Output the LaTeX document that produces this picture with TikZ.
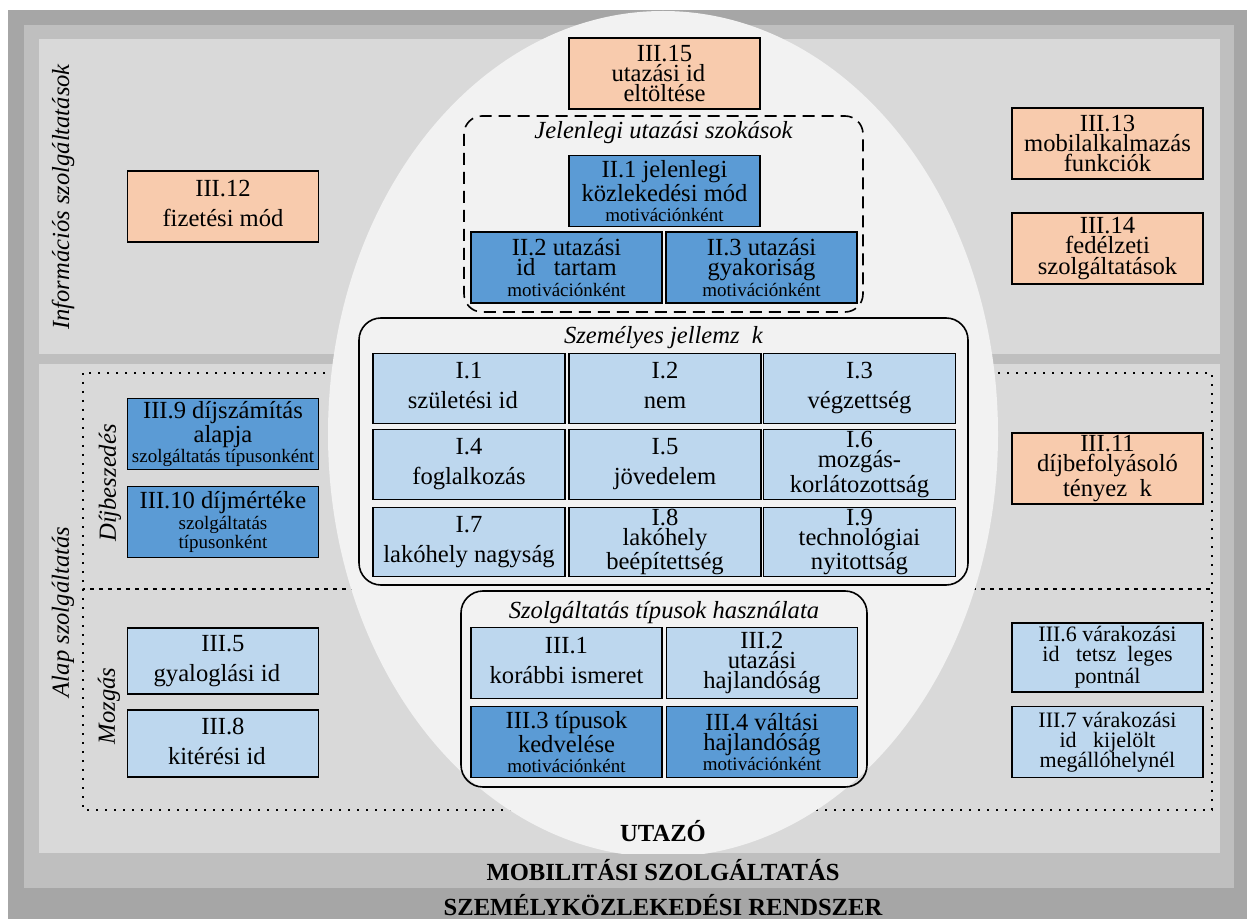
\documentclass[tikz,border=0pt]{standalone}
\usepackage{fontspec}
\setmainfont{Liberation Serif}
\definecolor{peach}{HTML}{F8CBAD}
\definecolor{dblue}{HTML}{5B9BD5}
\definecolor{lblue}{HTML}{BDD7EE}
\definecolor{gA}{HTML}{A6A6A6}
\definecolor{gB}{HTML}{BFBFBF}
\definecolor{gC}{HTML}{D9D9D9}
\definecolor{gD}{HTML}{F2F2F2}
\newcommand{\smtxt}[1]{{\fontsize{9.5}{10}\selectfont #1}}
\newcommand{\dsc}{\vphantom{g}}
\tikzset{
  bx/.style={draw=black, line width=0.7pt, inner sep=0pt, align=center,
    minimum width=95.5pt, minimum height=35.5pt,
    font=\fontsize{12.3}{15}\selectfont},
  three/.style={font=\fontsize{12.3}{10.2}\selectfont},
  threesm/.style={font=\fontsize{11}{10}\selectfont},
  cell/.style={minimum width=96pt, minimum height=34.75pt},
  pch/.style={bx, fill=peach},
  dbx/.style={bx, fill=dblue},
  lbx/.style={bx, fill=lblue},
  dotline/.style={line width=0.8pt, dash pattern=on 0.8pt off 3.7pt},
  dashline/.style={line width=0.8pt, dash pattern=on 6pt off 3.5pt, rounded corners=9pt},
  grp/.style={line width=0.8pt, rounded corners=11pt},
  ttl/.style={font=\fontsize{12.3}{14}\selectfont\itshape, inner sep=0pt},
  sidelbl/.style={font=\fontsize{12.3}{14}\selectfont\itshape, rotate=90, inner sep=0pt},
  bold/.style={font=\fontsize{12.3}{14}\selectfont\bfseries, inner sep=0pt}
}
\begin{document}
\begin{tikzpicture}[x=0.5pt,y=-0.5pt]
\useasboundingbox (0,0) rectangle (1247,919);
% background bands
\fill[gA] (8,10) rectangle (1247,919);
\fill[gB] (24,25) rectangle (1234,888);
\fill[gC] (39,39) rectangle (1220,354);
\fill[gC] (39,364) rectangle (1220,853);
% dotted sub-areas
\draw[dotline] (83,373) rectangle (1212,589);
\draw[dotline] (83,589) rectangle (1212,810);
% traveller ellipse
\begin{scope}
  \clip (0,0) rectangle (1247,853);
  \fill[gD] (663,434) ellipse [x radius=335, y radius=423];
\end{scope}
% group frames
\draw[dashline] (464,116) rectangle (863,312);
\draw[grp] (359,318) rectangle (968,585);
\draw[grp] (461,591) rectangle (867,787);
\node[ttl] (tjel) at (663.5,133) {Jelenlegi utazási szokások};
\node[ttl] (tsze) at (663.5,338) {Személyes jellemz\phantom{o}k};
\node[ttl] (tszo) at (664,613) {Szolgáltatás típusok használata};
% side labels
\node[sidelbl] (linf) at (63,197) {Információs szolgáltatások};
\node[sidelbl] (lalap) at (63,612) {Alap szolgáltatás};
\node[sidelbl] (ldij) at (110,483) {Díjbeszedés};
\node[sidelbl] (lmoz) at (109,706) {Mozgás};
% information services
\node[pch] (b312) at (223,206.5) {III.12\\fizetési mód\dsc};
\node[pch, three] (b315) at (664.5,73.5) {III.15\\utazási id\phantom{o}\\eltöltése};
\node[pch, three] (b313) at (1107.5,143.5) {III.13\\mobilalkalmazás\\funkciók};
\node[pch, three] (b314) at (1107.5,248.5) {III.14\\fedélzeti\\szolgáltatások};
% current habits
\node[dbx, three] (b21) at (664.5,191) {II.1 jelenlegi\\közlekedési mód\\\smtxt{motivációnként}};
\node[dbx, three] (b22) at (566.5,267.5) {II.2 utazási\\id\phantom{o} tartam\\\smtxt{motivációnként}};
\node[dbx, three] (b23) at (761.5,267.5) {II.3 utazási\\gyakoriság\\\smtxt{motivációnként}};
% personal characteristics
\node[lbx, cell] (i1) at (469,388.5) {I.1\\születési id\phantom{o}\dsc};
\node[lbx, cell] (i2) at (665,388.5) {I.2\\nem\dsc};
\node[lbx, cell] (i3) at (859.5,388.5) {I.3\\végzettség\dsc};
\node[lbx, cell] (i4) at (469,464.5) {I.4\\foglalkozás\dsc};
\node[lbx, cell] (i5) at (665,464.5) {I.5\\jövedelem\dsc};
\node[lbx, cell, three] (i6) at (859.5,464.5) {I.6\\mozgás-\\korlátozottság};
\node[lbx, cell] (i7) at (469,542) {I.7\\lakóhely nagyság\dsc};
\node[lbx, cell, three] (i8) at (665,542) {I.8\\lakóhely\\beépítettség};
\node[lbx, cell, three] (i9) at (859.5,542) {I.9\\technológiai\\nyitottság};
% fee collection
\node[dbx, three] (b39) at (223,434) {III.9 díjszámítás\\alapja\\\smtxt{szolgáltatás típusonként}};
\node[dbx, font=\fontsize{12.3}{8.6}\selectfont] (b310) at (223,522) {III.10 díjmértéke\\\smtxt{szolgáltatás}\\\smtxt{típusonként}};
\node[pch, three] (b311) at (1107.5,468.5) {III.11\\díjbefolyásoló\\tényez\phantom{o}k};
% movement
\node[lbx, minimum height=33pt] (b35) at (223,661) {III.5\\gyaloglási id\phantom{o}\dsc};
\node[lbx, minimum height=33.5pt] (b38) at (223,743.5) {III.8\\kitérési id\phantom{o}\dsc};
\node[lbx, threesm, minimum height=34.5pt] (b36) at (1107.5,657.5) {III.6 várakozási\\id\phantom{o} tetsz\phantom{o}leges\\pontnál};
\node[lbx, threesm] (b37) at (1107.5,742) {III.7 várakozási\\id\phantom{o} kijelölt\\megállóhelynél};
% service type usage
\node[lbx] (b31) at (566.5,663) {III.1\\korábbi ismeret\dsc};
\node[lbx, three] (b32) at (762,663) {III.2\\utazási\\hajlandóság};
\node[dbx, three] (b33) at (566.5,742) {III.3 típusok\\kedvelése\\\smtxt{motivációnként}};
\node[dbx, three] (b34) at (762,742) {III.4 váltási\\hajlandóság\\\smtxt{motivációnként}};
% bottom captions
\node[bold] (utazo) at (663,831) {UTAZÓ};
\node[bold] (mobil) at (663,870) {MOBILITÁSI SZOLGÁLTATÁS};
\node[bold] (szem) at (663,905) {SZEMÉLYKÖZLEKEDÉSI RENDSZER};
\end{tikzpicture}
\end{document}
